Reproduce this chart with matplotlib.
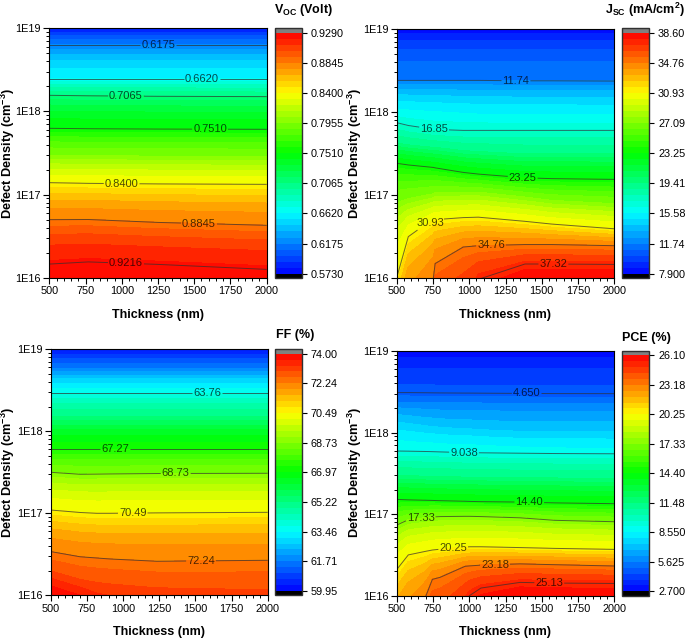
import numpy as np
import matplotlib
matplotlib.use("Agg")
import matplotlib.pyplot as plt
from matplotlib.colors import LinearSegmentedColormap
from matplotlib.ticker import FixedLocator, NullFormatter, MultipleLocator

plt.rcParams['font.family'] = ['Liberation Sans', 'DejaVu Sans']
plt.rcParams['mathtext.fontset'] = 'custom'
plt.rcParams['mathtext.bf'] = 'Liberation Sans:bold'
plt.rcParams['mathtext.rm'] = 'Liberation Sans'
plt.rcParams['mathtext.default'] = 'bf'

W, H = 685, 641

# Each table: level value -> log10(defect density) at which it is reached, per thickness
voc_thick = [500, 770, 1250, 2000]
voc_levels = [0.5730, 0.6175, 0.6620, 0.7065, 0.7510, 0.7955, 0.8400, 0.8845, 0.9216, 0.9290]
voc_logn = [
    [19.02, 19.02, 19.02, 19.02],
    [18.80, 18.80, 18.80, 18.80],
    [18.395, 18.395, 18.395, 18.395],
    [18.194, 18.188, 18.182, 18.178],
    [17.797, 17.792, 17.788, 17.785],
    [17.47, 17.465, 17.46, 17.455],
    [17.143, 17.135, 17.128, 17.123],
    [16.698, 16.70, 16.665, 16.63],
    [16.164, 16.19, 16.16, 16.10],
    [15.98, 16.0, 15.98, 15.93],
]
voc_ticks = ['0.5730', '0.6175', '0.6620', '0.7065', '0.7510', '0.7955', '0.8400', '0.8845', '0.9290']
voc_range = (0.5730, 0.9290)
voc_lines = [0.6175, 0.6620, 0.7065, 0.7510, 0.8400, 0.8845, 0.9216]
voc_names = ['0.6175', '0.6620', '0.7065', '0.7510', '0.8400', '0.8845', '0.9216']
voc_label_x = [1252, 1551, 1029, 1609, 999, 1533, 1029]
voc_label_y = [18.80, 18.395, 18.185, 17.786, 17.135, 16.65, 16.17]

jsc_thick = [500, 580, 753, 765, 959, 1063, 1384, 1568, 2000]
jsc_levels = [7.90, 11.74, 15.58, 16.85, 19.41, 23.25, 27.09, 30.93, 34.76, 37.32, 38.60]
jsc_logn = [
    [19.02, 19.02, 19.02, 19.02, 19.02, 19.02, 19.02, 19.02, 19.02],
    [18.38, 18.38, 18.38, 18.38, 18.38, 18.38, 18.375, 18.375, 18.372],
    [18.03, 18.02, 18.00, 18.00, 17.98, 17.97, 17.96, 17.96, 17.96],
    [17.87, 17.836, 17.79, 17.788, 17.777, 17.777, 17.777, 17.777, 17.777],
    [17.62, 17.60, 17.57, 17.57, 17.53, 17.52, 17.49, 17.49, 17.49],
    [17.38, 17.36, 17.33, 17.325, 17.27, 17.25, 17.205, 17.195, 17.186],
    [16.90, 16.95, 17.01, 17.02, 17.03, 17.03, 16.97, 16.93, 16.89],
    [16.00, 16.495, 16.69, 16.70, 16.725, 16.73, 16.68, 16.647, 16.59],
    [14.50, 15.20, 16.00, 16.17, 16.37, 16.386, 16.40, 16.40, 16.386],
    [14.00, 14.20, 14.90, 15.00, 15.50, 15.98, 16.165, 16.165, 16.16],
    [13.90, 14.10, 14.80, 14.90, 15.40, 15.70, 15.97, 15.98, 15.98],
]
jsc_ticks = ['7.900', '11.74', '15.58', '19.41', '23.25', '27.09', '30.93', '34.76', '38.60']
jsc_range = (7.90, 38.60)
jsc_lines = [11.74, 16.85, 23.25, 30.93, 34.76, 37.32]
jsc_names = ['11.74', '16.85', '23.25', '30.93', '34.76', '37.32']
jsc_label_x = [1322, 757, 1368, 718, 1150, 1580]
jsc_label_y = [18.377, 17.785, 17.2, 16.695, 16.39, 16.165]

ff_thick = [500, 703, 818, 910, 1233, 2000]
ff_levels = [59.95, 61.71, 63.76, 65.22, 66.97, 67.27, 68.73, 70.49, 72.24, 73.00, 73.60, 74.00]
ff_logn = [
    [19.02, 19.02, 19.02, 19.02, 19.02, 19.02],
    [18.76, 18.76, 18.76, 18.76, 18.76, 18.76],
    [18.463, 18.463, 18.463, 18.463, 18.463, 18.463],
    [18.17, 18.17, 18.17, 18.17, 18.17, 18.17],
    [17.86, 17.86, 17.86, 17.86, 17.86, 17.86],
    [17.78, 17.78, 17.78, 17.78, 17.78, 17.78],
    [17.50, 17.476, 17.478, 17.48, 17.485, 17.488],
    [17.04, 17.01, 17.00, 17.00, 17.005, 17.012],
    [16.533, 16.47, 16.455, 16.443, 16.415, 16.427],
    [16.27, 16.16, 16.12, 16.10, 16.05, 16.02],
    [16.13, 16.02, 15.90, 15.85, 15.70, 15.60],
    [15.95, 15.80, 15.70, 15.60, 15.40, 15.30],
]
ff_ticks = ['59.95', '61.71', '63.46', '65.22', '66.97', '68.73', '70.49', '72.24', '74.00']
ff_range = (59.95, 74.00)
ff_lines = [63.76, 67.27, 68.73, 70.49, 72.24]
ff_names = ['63.76', '67.27', '68.73', '70.49', '72.24']
ff_label_x = [1583, 945, 1364, 1067, 1539]
ff_label_y = [18.463, 17.78, 17.485, 17.005, 16.42]

pce_thick = [500, 580, 702, 746, 799, 971, 1001, 1081, 1350, 1591, 2000]
pce_levels = [2.70, 4.65, 5.625, 7.09, 8.55, 9.038, 11.48, 14.40, 17.33, 20.25, 23.18, 25.13, 26.10]
pce_logn = [
    [19.02] * 11,
    [18.49, 18.49, 18.488, 18.487, 18.486, 18.484, 18.484, 18.483, 18.48, 18.478, 18.477],
    [18.37, 18.37, 18.365, 18.365, 18.36, 18.36, 18.36, 18.36, 18.355, 18.35, 18.35],
    [18.17, 18.15, 18.12, 18.11, 18.10, 18.08, 18.08, 18.07, 18.05, 18.05, 18.05],
    [17.90, 17.89, 17.87, 17.87, 17.86, 17.85, 17.85, 17.84, 17.82, 17.81, 17.80],
    [17.774, 17.772, 17.768, 17.766, 17.763, 17.755, 17.754, 17.752, 17.747, 17.743, 17.74],
    [17.47, 17.47, 17.46, 17.46, 17.46, 17.45, 17.45, 17.45, 17.44, 17.44, 17.43],
    [17.18, 17.175, 17.17, 17.168, 17.165, 17.158, 17.156, 17.153, 17.148, 17.138, 17.128],
    [16.866, 16.93, 16.955, 16.965, 16.97, 16.973, 16.973, 16.97, 16.955, 16.924, 16.907],
    [16.32, 16.50, 16.545, 16.56, 16.57, 16.595, 16.60, 16.60, 16.59, 16.58, 16.568],
    [15.00, 15.50, 16.00, 16.20, 16.225, 16.36, 16.365, 16.375, 16.39, 16.38, 16.364],
    [14.00, 14.30, 14.80, 15.00, 15.20, 15.90, 16.00, 16.094, 16.163, 16.155, 16.15],
    [13.80, 14.10, 14.60, 14.80, 15.00, 15.60, 15.70, 15.85, 16.00, 15.98, 15.97],
]
pce_ticks = ['2.700', '5.625', '8.550', '11.48', '14.40', '17.33', '20.25', '23.18', '26.10']
pce_range = (2.70, 26.10)
pce_lines = [4.65, 9.038, 14.40, 17.33, 20.25, 23.18, 25.13]
pce_names = ['4.650', '9.038', '14.40', '17.33', '20.25', '23.18', '25.13']
pce_label_x = [1396, 964, 1414, 665, 890, 1178, 1552]
pce_label_y = [18.48, 17.755, 17.15, 16.95, 16.57, 16.37, 16.16]

y_tick_exp = [16, 17, 18, 19]
y_tick_labels = ['1E16', '1E17', '1E18', '1E19']
x_ticks = [500, 750, 1000, 1250, 1500, 1750, 2000]

cmap = LinearSegmentedColormap.from_list(
    'rainbow5', ['#0000ff', '#00ffff', '#00ff00', '#ffff00', '#ff0000'], N=256)
cmap.set_under('black')
cmap.set_over('#808080')

TICK = 7.8
LAB = 9.0
YLAB = 9.2
fig = plt.figure(figsize=(W / 100, H / 100), dpi=100)


def box(L, T, R, B):
    return [L / W, 1 - B / H, (R - L) / W, (B - T) / H]


def panel(thick, levels, logn, rng, ticks, lines, names, lx, ly, axbox, cbox,
          title, tpos, xlpos, ylpos):
    ax = fig.add_axes(box(*axbox))
    X, _ = np.meshgrid(thick, levels)
    Y = 10.0 ** np.array(logn, dtype=float)
    Z = np.tile(np.array(levels, dtype=float)[:, None], (1, len(thick)))
    bands = np.linspace(rng[0], rng[1], 41)
    cf = ax.contourf(X, Y, Z, levels=bands, cmap=cmap, vmin=rng[0], vmax=rng[1], extend='both')
    cf.set_edgecolor('face')
    cf.set_linewidth(0.3)
    cs = ax.contour(X, Y, Z, levels=lines, colors='#303030', linewidths=0.7, alpha=0.7)
    ax.set_yscale('log')
    ax.set_xlim(500, 2000)
    ax.set_ylim(1e16, 1e19)
    fmt = dict(zip(cs.levels, names))
    pts = [(a, 10.0 ** b) for a, b in zip(lx, ly)]
    lab = ax.clabel(cs, inline=True, fontsize=8.0, fmt=fmt, manual=pts, inline_spacing=1,
                    colors='black')
    for t in lab:
        t.set_rotation(0)
    ax.set_xticks(x_ticks)
    ax.xaxis.set_minor_locator(MultipleLocator(50))
    ax.set_yticks([10.0 ** e for e in y_tick_exp])
    ax.set_yticklabels(y_tick_labels)
    ax.yaxis.set_minor_locator(FixedLocator(
        [m * 10.0 ** e for e in y_tick_exp[:-1] for m in range(2, 10)]))
    ax.yaxis.set_minor_formatter(NullFormatter())
    ax.tick_params(which='major', length=4, width=0.8, labelsize=TICK, pad=2)
    ax.tick_params(which='minor', length=2.2, width=0.7)
    for s in ax.spines.values():
        s.set_linewidth(0.8)

    cax = fig.add_axes(box(*cbox))
    span = cbox[3] - cbox[1]
    cb = fig.colorbar(cf, cax=cax, extendrect=True, extendfrac=13 / 3 / (span - 26 / 3),
                      drawedges=False)
    cb.set_ticks(np.linspace(rng[0], rng[1], 9))
    cb.set_ticklabels(ticks)
    cb.ax.minorticks_off()
    cb.ax.tick_params(length=3.5, width=0.8, labelsize=TICK, pad=3)
    cb.outline.set_linewidth(1.0)
    cb.outline.set_edgecolor('#303030')

    fig.text(tpos[0] / W, 1 - tpos[1] / H, title, fontsize=LAB, fontweight='bold',
             ha='center', va='center')
    fig.text(xlpos[0] / W, 1 - xlpos[1] / H, 'Thickness (nm)', fontsize=LAB, fontweight='bold',
             ha='center', va='center')
    fig.text(ylpos[0] / W, 1 - ylpos[1] / H, r'Defect Density (cm$^{\mathbf{-3}}$)',
             fontsize=YLAB, fontweight='bold', rotation=90, ha='center', va='center')


panel(voc_thick, voc_levels, voc_logn, voc_range, voc_ticks, voc_lines, voc_names,
      voc_label_x, voc_label_y, (49.3, 28.3, 266.7, 277.7), (275.3, 28.3, 301.7, 278),
      r'V$_{\mathbf{OC}}$ (Volt)', (303, 10), (158, 315), (8, 153))
panel(jsc_thick, jsc_levels, jsc_logn, jsc_range, jsc_ticks, jsc_lines, jsc_names,
      jsc_label_x, jsc_label_y, (396.7, 29, 614.3, 277.7), (622.3, 28.3, 649, 278),
      r'J$_{\mathbf{SC}}$ (mA/cm$^{\mathbf{2}}$)', (645, 10), (505, 315), (355, 153))
panel(ff_thick, ff_levels, ff_logn, ff_range, ff_ticks, ff_lines, ff_names,
      ff_label_x, ff_label_y, (50.7, 349.3, 267.7, 595.3), (275.3, 349.3, 301.7, 595.3),
      'FF (%)', (295, 335), (159, 632), (8, 472))
panel(pce_thick, pce_levels, pce_logn, pce_range, pce_ticks, pce_lines, pce_names,
      pce_label_x, pce_label_y, (396.7, 351, 614.3, 595.7), (622.3, 351, 649, 595.7),
      'PCE (%)', (646, 338), (505, 632), (355, 472))

fig.savefig('out.png', dpi=100)
